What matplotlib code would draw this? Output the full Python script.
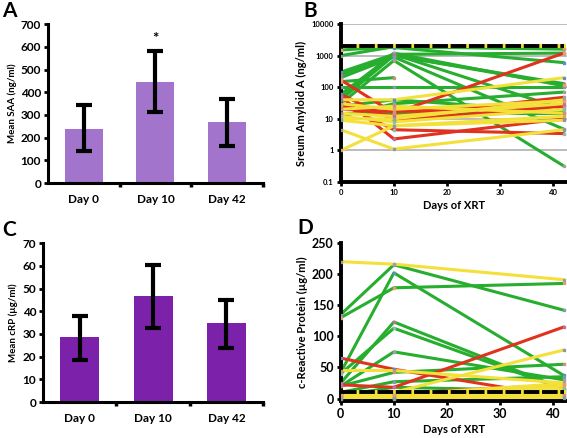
import matplotlib
matplotlib.use("Agg")
import matplotlib.pyplot as plt
import numpy as np

plt.rcParams['font.family'] = ['Lato', 'DejaVu Sans']
plt.rcParams['font.weight'] = 'bold'

# ---- bar panels ----
days_cat = ['Day 0', 'Day 10', 'Day 42']
saa_mean = [240, 445, 270]
saa_lo = [140, 312, 165]
saa_hi = [345, 582, 372]
crp_mean = [28.5, 46.5, 35]
crp_lo = [18.5, 32.8, 24]
crp_hi = [38, 60.5, 45]

# ---- individual patients (day 0, day 10, day 42) ----
days = [0, 10, 42]
saa_green = [
    [1000, 1900, 1600],
    [1500, 1900, 1700],
    [300, 1100, 1200],
    [250, 1000, 130],
    [50, 1200, 110],
    [30, 700, 0.32],
    [150, 200, None],
    [100, 100, 100],
    [40, 1000, 120],
    [2000, 1800, 600],
    [60, 1100, 20],
    [25, 40, 17],
    [12, 30, 70],
    [15, 15, 15],
    [200, 900, 4.7],
]
saa_red = [
    [170, 15, 1200],
    [60, 9, 25],
    [50, 2.3, 10],
    [30, 4.5, 3.4],
    [25, 12, 48],
    [20, 17, 26],
]
saa_yellow = [
    [4.5, 1.1, 4.5],
    [1, 6, 12],
    [40, 40, 200],
    [15, 12, 30],
    [12, 8, 20],
    [10, 10, 40],
    [20, 25, 15],
    [9, 6, 9],
    [30, 20, 37],
]
saa_limit = 2000

crp_green = [
    [135, 215, 142],
    [130, 178, 185],
    [42, 202, 37],
    [25, 123, 15],
    [40, 113, 15],
    [20, 75, 30],
    [20, 42, 55],
    [10, 27, 35],
    [5, 18, 12],
]
crp_red = [
    [65, 47, 2],
    [22, 18, 115],
    [10, 8, 22],
]
crp_yellow = [
    [220, 216, 191],
    [45, 45, 25],
    [5, 10, 78],
    [3, 2, 20],
    [8, 5, 10],
    [2, 1, 5],
    [6, 4, 15],
    [1, 0, 3],
    [4, 3, 7],
    [0, 1, 1],
    [7, 6, 24],
]
crp_limit = 10

GREEN = '#27ae2f'
RED = '#e0321e'
YELLOW = '#f4e03a'
marker_cols = ['#8899aa', '#e8a060', '#5a8fc8', '#c070a0', '#88c0a8', '#a0a0a0', '#d09080']

fig = plt.figure(figsize=(5.67, 4.38), dpi=100)


def bar_panel(rect, means, lo, hi, color, ylim, yticks, ylabel):
    ax = fig.add_axes(rect)
    x = np.arange(len(means))
    ax.bar(x, means, width=0.53, color=color, zorder=2)
    means = np.array(means)
    yerr = [means - np.array(lo), np.array(hi) - means]
    ax.errorbar(x, means, yerr=yerr, fmt='none', ecolor='black', elinewidth=3,
                capsize=6, capthick=3, zorder=3)
    ax.set_xlim(-0.5, 2.5)
    ax.set_ylim(*ylim)
    ax.set_yticks(yticks)
    ax.set_xticks([0.5, 1.5, 2.5])
    ax.set_xticklabels([])
    ax.set_xticks(x, minor=True)
    ax.set_xticklabels(days_cat, minor=True, fontsize=8.5, fontweight='bold')
    ax.tick_params(axis='x', which='minor', length=0, pad=8)
    ax.tick_params(axis='x', which='major', length=3, width=2.5, direction='out')
    ax.tick_params(axis='y', length=3, width=2, labelsize=8.5, pad=2)
    for s in ['top', 'right']:
        ax.spines[s].set_visible(False)
    for s in ['left', 'bottom']:
        ax.spines[s].set_linewidth(2.2)
    ax.set_ylabel(ylabel, fontsize=7, fontweight='bold', labelpad=3)
    return ax


axA = bar_panel([0.0847, 0.582, 0.379, 0.363], saa_mean, saa_lo, saa_hi, '#a274cb',
                (0, 700), range(0, 701, 100), 'Mean SAA (ng/ml)')
axA.text(1, 605, '*', ha='center', va='bottom', fontsize=11, fontweight='bold')

axC = bar_panel([0.076, 0.082, 0.388, 0.363], crp_mean, crp_lo, crp_hi, '#7c21a9',
                (0, 70), range(0, 71, 10), 'Mean cRP (\u00b5g/ml)')


def line_panel(rect, groups, limit, ylabel):
    ax = fig.add_axes(rect)
    k = 0
    for col, series in groups:
        for vals in series:
            xs = [d for d, v in zip(days, vals) if v is not None]
            ys = [v for v in vals if v is not None]
            ax.plot(xs, ys, color=col, lw=2.2, zorder=2, solid_capstyle='round')
            ax.plot(xs, ys, ls='none', marker='s', ms=1.8,
                    color=marker_cols[k % len(marker_cols)], zorder=3)
            k += 1
    ax.plot([0, 42], [limit, limit], color=YELLOW, lw=2.8, zorder=4)
    ax.plot([0, 42], [limit, limit], color='black', lw=2.8, ls=(0, (4, 0.7)), zorder=5)
    ax.set_xlim(0, 42.6)
    ax.set_xticks([0, 10, 20, 30, 40])
    for s in ['top', 'right']:
        ax.spines[s].set_visible(False)
    for s in ['left', 'bottom']:
        ax.spines[s].set_linewidth(2.8)
    ax.set_xlabel('Days of XRT', fontsize=8, fontweight='bold', labelpad=3)
    ax.set_ylabel(ylabel, fontsize=8, fontweight='bold', labelpad=3)
    return ax


groups_saa = [(GREEN, saa_green), (RED, saa_red), (YELLOW, saa_yellow)]
axB = line_panel([0.601, 0.5845, 0.399, 0.3607], groups_saa, saa_limit,
                 'Sreum Amyloid A (ng/ml)')
axB.set_yscale('log')
axB.set_ylim(0.1, 10000)
axB.set_yticks([0.1, 1, 10, 100, 1000, 10000])
axB.set_yticklabels(['0.1', '1', '10', '100', '1000', '10000'])
axB.minorticks_off()
axB.grid(axis='y', color='#b0b0b0', lw=1.2, zorder=0)
axB.tick_params(axis='both', length=3, width=2, labelsize=5.5, pad=2)

groups_crp = [(GREEN, crp_green), (RED, crp_red), (YELLOW, crp_yellow)]
axD = line_panel([0.601, 0.0845, 0.399, 0.3607], groups_crp, crp_limit,
                 'c-Reactive Protein (\u00b5g/ml)')
axD.set_ylim(-4, 250)
axD.set_yticks(range(0, 251, 50))
axD.tick_params(axis='both', length=3, width=2, labelsize=9, pad=2)

# panel letters
for lx, ly, lt in [(2, 1, 'A'), (303, 1, 'B'), (2, 220, 'C'), (297, 218, 'D')]:
    fig.text(lx / 567, 1 - ly / 438, lt, fontsize=15, fontweight='bold',
             ha='left', va='top')

fig.savefig('out.png', dpi=100)
